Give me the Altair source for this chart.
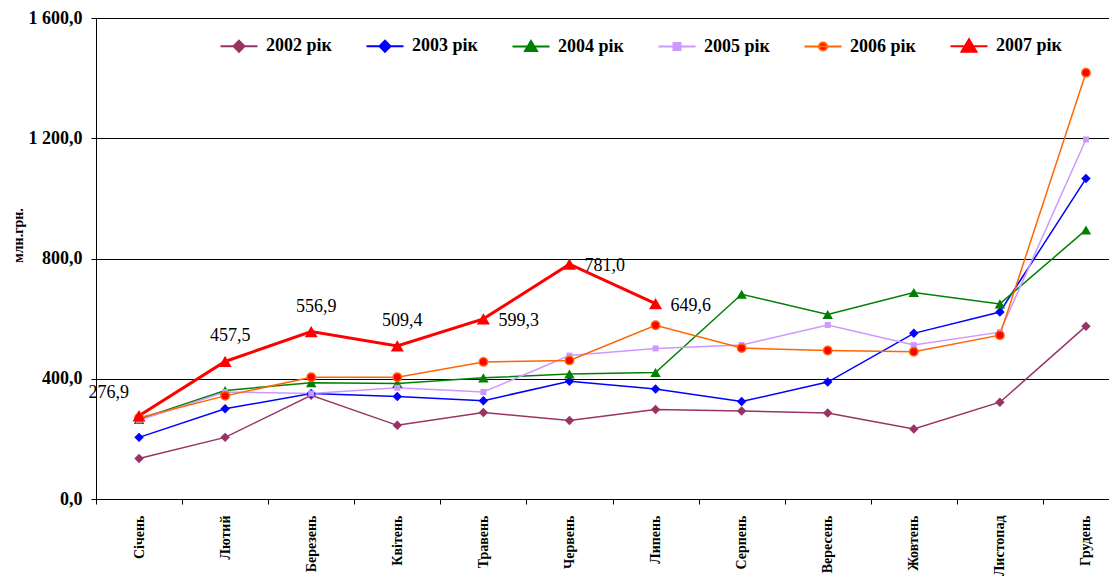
import altair as alt
import pandas as pd

months = ["Січень", "Лютий", "Березень", "Квітень", "Травень", "Червень",
          "Липень", "Серпень", "Вересень", "Жовтень", "Листопад", "Грудень"]
years = ["2002 рік", "2003 рік", "2004 рік", "2005 рік", "2006 рік", "2007 рік"]

v2002 = [135, 205, 345, 245, 288, 261, 298, 293, 286, 233, 322, 575]
v2003 = [205, 300, 351, 341, 327, 392, 366, 324, 389, 551, 622, 1066]
v2004 = [265, 361, 387, 384, 403, 416, 421, 681, 614, 687, 649, 895]
v2005 = [262, 356, 351, 370, 356, 477, 501, 512, 579, 512, 555, 1196]
v2006 = [270, 343, 405, 405, 456, 461, 578, 502, 494, 490, 545, 1418]
v2007 = [276.9, 457.5, 556.9, 509.4, 599.3, 781.0, 649.6]

colors = ["#993366", "#0000FF", "#008000", "#CC99FF", "#FF6600", "#FF0000"]
fill_colors = ["#993366", "#0000FF", "#008000", "#CC99FF", "#FF0000", "#FF0000"]

series = [v2002, v2003, v2004, v2005, v2006, v2007]
rows = []
for y, vals in zip(years, series):
    for m, v in zip(months, vals):
        rows.append({"month": m, "year": y, "value": v})
df = pd.DataFrame(rows)

FONT = "Liberation Serif"

x_enc = alt.X("month:N", sort=months, title=None,
              scale=alt.Scale(domain=months, paddingInner=0, paddingOuter=0, range=[0, 1033]),
              axis=alt.Axis(labelAngle=-90, labelFont=FONT, labelFontSize=14, labelFontWeight="bold",
                            labelColor="black", domainColor="black", tickColor="black", tickSize=5,
                            tickBand="extent", labelPadding=11, grid=False))
y_enc = alt.Y("value:Q", title="млн.грн.",
              scale=alt.Scale(domain=[0, 1600], nice=False),
              axis=alt.Axis(values=[0, 400, 800, 1200, 1600],
                            labelExpr="replace(replace(format(datum.value, ',.1f'), ',', ' '), '.', ',')",
                            labelFont=FONT, labelFontSize=18, labelFontWeight="bold", labelColor="black",
                            labelPadding=9, tickSize=5, tickColor="black", domainColor="black",
                            grid=True, gridColor="black", gridWidth=1,
                            titleFont=FONT, titleFontSize=14, titleFontWeight="bold", titleColor="black",
                            titleX=-78, titleY=217, titleAngle=-90, titleBaseline="middle", titleAlign="center"))

base = alt.Chart(df)

marker_shapes = ["diamond", "diamond", "triangle-up", "square", "circle", "triangle-up"]
marker_sizes = [90, 90, 110, 36, 70, 170]
line_widths = [1.5, 1.5, 1.5, 1.5, 1.5, 3]

layers = []
for i, y in enumerate(years):
    sub = base.transform_filter(alt.datum.year == y)
    layers.append(sub.mark_line(color=colors[i], strokeWidth=line_widths[i]).encode(x=x_enc, y=y_enc))
for i, y in enumerate(years):
    sub = base.transform_filter(alt.datum.year == y)
    if y == "2006 рік":
        pt = sub.mark_point(shape="circle", filled=True, color="#FF0000", stroke="#FF6600",
                            strokeWidth=1.5, size=marker_sizes[i], opacity=1)
    else:
        pt = sub.mark_point(shape=marker_shapes[i], filled=True, color=colors[i],
                            size=marker_sizes[i], opacity=1)
    layers.append(pt.encode(x=x_enc, y=y_enc))

lab = base.transform_filter(alt.datum.year == "2007 рік").transform_calculate(
    label="replace(format(datum.value, '.1f'), '.', ',')"
).transform_window(idx="row_number()")
text_style = dict(font=FONT, fontSize=18, color="black")
layers.append(lab.transform_filter("datum.idx == 1").mark_text(align="right", baseline="middle", dx=-10, dy=-23, **text_style)
              .encode(x=x_enc, y=y_enc, text="label:N"))
layers.append(lab.transform_filter("datum.idx >= 2 && datum.idx <= 4").mark_text(align="center", baseline="middle", dy=-25, dx=5, **text_style)
              .encode(x=x_enc, y=y_enc, text="label:N"))
layers.append(lab.transform_filter("datum.idx >= 5").mark_text(align="left", baseline="middle", dx=15, dy=2, **text_style)
              .encode(x=x_enc, y=y_enc, text="label:N"))

# legend-only layer
line_part = "M-3.7,0H3.7"
legend_paths = [
    line_part + "M0,-1.1L1.1,0L0,1.1L-1.1,0Z",
    line_part + "M0,-1.1L1.1,0L0,1.1L-1.1,0Z",
    line_part + "M0,-1.1L1.2,0.9L-1.2,0.9Z",
    line_part + "M-0.7,-0.7H0.7V0.7H-0.7Z",
    line_part + "M-0.8,0A0.8,0.8,0,1,0,0.8,0A0.8,0.8,0,1,0,-0.8,0Z",
    line_part + "M0,-1.4L1.5,1.1L-1.5,1.1Z",
]
leg = alt.Legend(title=None, orient="none", direction="horizontal", legendX=134, legendY=19,
                 labelFont=FONT, labelFontSize=18, labelFontWeight="bold", labelColor="black",
                 symbolSize=100, labelOffset=18, columnPadding=30, padding=0, labelLimit=200,
                 symbolStrokeWidth=2, symbolOpacity=1)
legend_layer = base.transform_filter("datum.value < 0").mark_point(opacity=1).encode(
    x=x_enc, y=y_enc,
    stroke=alt.Stroke("year:N", scale=alt.Scale(domain=years, range=colors), legend=leg),
    fill=alt.Fill("year:N", scale=alt.Scale(domain=years, range=fill_colors), legend=leg),
    shape=alt.Shape("year:N", scale=alt.Scale(domain=years, range=legend_paths), legend=leg),
)
layers.append(legend_layer)

chart = alt.layer(*layers).properties(
    width=1013, height=481,
    padding={"left": 88, "top": 10, "right": 0, "bottom": 77},
    autosize="none",
).configure(background="white", font=FONT).configure_view(stroke=None).configure_legend(
    labelFont=FONT).configure_axis(labelFont=FONT, titleFont=FONT)

chart.save("out.html", embed_options={"renderer": "svg", "actions": False})
